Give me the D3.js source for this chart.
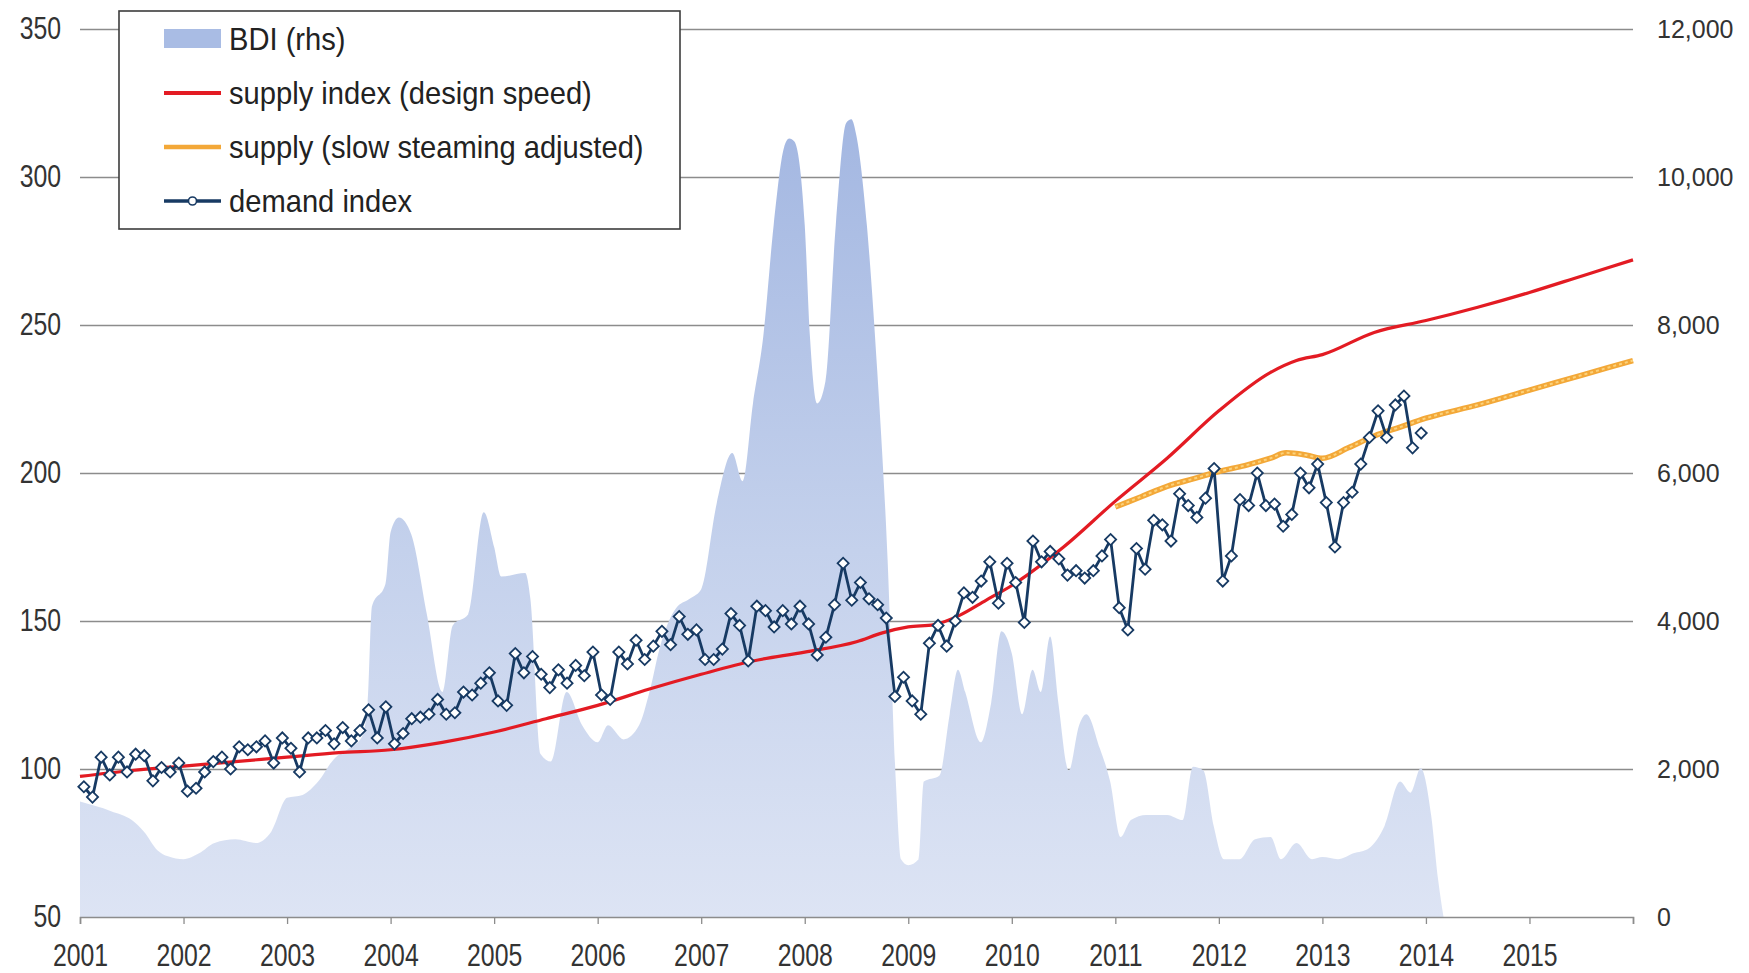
<!DOCTYPE html>
<html>
<head>
<meta charset="utf-8">
<script src="https://cdn.jsdelivr.net/npm/d3@7"></script>
<style>
body { margin: 0; background: #fff; }
svg { display: block; font-family: 'Liberation Sans', Arial, sans-serif; }
</style>
</head>
<body>
<svg id="chart" width="1749" height="973"></svg>
<script>
// axis ticks
var yearTicks = [2001, 2002, 2003, 2004, 2005, 2006, 2007, 2008, 2009, 2010, 2011, 2012, 2013, 2014, 2015, 2016];
var leftTicks = [50, 100, 150, 200, 250, 300, 350];
var rightTicks = [0, 2000, 4000, 6000, 8000, 10000, 12000];

// BDI (right hand scale)
var bdiYears = [2001.0, 2001.3, 2001.5, 2001.62, 2001.75, 2001.85, 2002.0, 2002.15, 2002.3, 2002.5, 2002.7, 2002.85, 2003.0, 2003.15, 2003.3, 2003.45, 2003.6, 2003.72, 2003.78, 2003.82, 2003.95, 2004.0, 2004.08, 2004.2, 2004.35, 2004.5, 2004.6, 2004.75, 2004.9, 2005.0, 2005.07, 2005.3, 2005.35, 2005.45, 2005.55, 2005.7, 2005.85, 2006.0, 2006.1, 2006.25, 2006.4, 2006.5, 2006.6, 2006.75, 2006.9, 2007.0, 2007.15, 2007.3, 2007.4, 2007.5, 2007.6, 2007.7, 2007.8, 2007.85, 2007.9, 2008.0, 2008.05, 2008.12, 2008.2, 2008.3, 2008.4, 2008.45, 2008.5, 2008.6, 2008.7, 2008.8, 2008.88, 2008.93, 2009.0, 2009.1, 2009.15, 2009.3, 2009.4, 2009.48, 2009.55, 2009.7, 2009.8, 2009.9, 2010.0, 2010.1, 2010.2, 2010.28, 2010.37, 2010.45, 2010.55, 2010.65, 2010.72, 2010.85, 2010.95, 2011.05, 2011.15, 2011.3, 2011.5, 2011.65, 2011.75, 2011.85, 2011.95, 2012.05, 2012.2, 2012.35, 2012.5, 2012.6, 2012.75, 2012.9, 2013.0, 2013.15, 2013.3, 2013.45, 2013.6, 2013.75, 2013.85, 2013.95, 2014.05, 2014.12, 2014.17];
var bdiValues = [1560, 1430, 1310, 1150, 900, 820, 780, 860, 1000, 1050, 1000, 1160, 1610, 1650, 1830, 2130, 2280, 2430, 2900, 4200, 4500, 5200, 5400, 5170, 4090, 3040, 3940, 4090, 5470, 5000, 4600, 4650, 4300, 2200, 2100, 3040, 2590, 2360, 2590, 2400, 2590, 3040, 3640, 4160, 4310, 4430, 5590, 6270, 5890, 6940, 7850, 9350, 10400, 10520, 10480, 9350, 7850, 6940, 7240, 9350, 10730, 10780, 10550, 9350, 7390, 4840, 1830, 780, 700, 780, 1830, 1910, 2740, 3340, 3040, 2360, 2890, 3860, 3560, 2740, 3340, 3040, 3790, 2890, 1980, 2590, 2740, 2280, 1830, 1080, 1310, 1380, 1380, 1310, 2030, 1980, 1230, 780, 780, 1050, 1080, 780, 1000, 780, 810, 780, 860, 930, 1230, 1830, 1680, 2010, 1380, 480, 0];

// supply index (design speed)
var supplyYears = [2001.0, 2001.5, 2002.0, 2002.5, 2003.0, 2003.5, 2004.0, 2004.5, 2005.0, 2005.5, 2006.0, 2006.5, 2007.0, 2007.5, 2008.0, 2008.5, 2008.75, 2009.0, 2009.25, 2009.5, 2009.75, 2010.0, 2010.5, 2011.0, 2011.5, 2012.0, 2012.5, 2012.75, 2013.0, 2013.5, 2014.0, 2014.5, 2015.0, 2015.5, 2016.0];
var supplyDesign = [97.5, 99.5, 101, 102.5, 104, 105.5, 106.5, 109, 112.5, 117, 121.5, 127, 132, 136.5, 139.5, 143, 146, 148, 148.8, 152, 157, 162, 175, 190.5, 205, 221, 234, 238, 240, 247.5, 251.5, 256, 261, 266.5, 272];

// supply (slow steaming adjusted)
var slowYears = [2011.0, 2011.25, 2011.5, 2011.75, 2012.0, 2012.25, 2012.5, 2012.65, 2012.85, 2013.0, 2013.25, 2013.5, 2013.75, 2014.0, 2014.5, 2015.0, 2015.5, 2016.0];
var supplySlow = [188.5, 192, 195.5, 198, 200.5, 202.5, 205, 206.8, 206, 205, 208.5, 212.5, 215.5, 218.5, 223, 228, 233, 238];

// demand index, monthly from Jan 2001
var demandStart = 2001;
var demandValues = [
    94, 90.5, 104, 98, 104, 99, 105, 104.5, 96, 100.5, 99, 102,
    92.5, 93.5, 99, 102.5, 104, 100, 107.5, 106.5, 107.5, 109.5, 102, 110.5,
    107, 99, 110.5, 110.5, 113, 108.5, 114, 109.5, 113, 120, 110.5, 121,
    108.5, 112, 117, 117.5, 118.5, 123.5, 118.5, 119, 126, 125, 129, 132.5,
    123, 121.5, 139, 132.5, 138, 132, 127.5, 133.5, 129, 135, 131.5, 139.5,
    125, 123.5, 139.5, 135.5, 143.5, 137, 141.5, 146.5, 142, 151.5, 145.5, 147,
    137, 137, 140.5, 152.5, 148.5, 136.5, 155, 153.5, 148, 153.5, 149, 155,
    149, 138.5, 144.5, 155.5, 169.5, 157, 163, 157.5, 155.5, 151, 124.5, 131,
    123, 118.5, 142.5, 148.5, 141.5, 150, 159.5, 158, 163.5, 170, 156, 169.5,
    163, 149.5, 177, 170, 173.5, 171, 165.5, 167, 164.5, 167, 172, 177.5,
    154.5, 147, 174.5, 167.5, 184, 182.5, 177, 193, 189, 185, 191.5, 201.5,
    163.5, 172, 191, 189, 200, 189, 189.5, 182, 186, 200, 195, 203,
    190, 175, 190, 193.5, 203, 212, 221, 212, 223, 226, 208.5, 213.5
];

var legendLabels = ['BDI (rhs)', 'supply index (design speed)', 'supply (slow steaming adjusted)', 'demand index'];

var RED = '#e31b23';
var ORANGE = '#f3a838';
var NAVY = '#173a63';
var TEXT = '#333';

var svg = d3.select('#chart');

// plot edges (window.top is reserved, so prefixed names)
var plotLeft = 80, plotRight = 1633, plotTop = 29, plotBottom = 917;

var x = d3.scaleLinear().domain([2001, 2016]).range([plotLeft, plotRight]);
var yL = d3.scaleLinear().domain([50, 350]).range([plotBottom, plotTop]);
var yR = d3.scaleLinear().domain([0, 12000]).range([plotBottom, plotTop]);

// gradient for the BDI area
var defs = svg.append('defs');
var grad = defs.append('linearGradient')
    .attr('id', 'bdiFill')
    .attr('gradientUnits', 'userSpaceOnUse')
    .attr('x1', 0).attr('x2', 0)
    .attr('y1', yR(11000)).attr('y2', plotBottom);
grad.append('stop').attr('offset', '0%').attr('stop-color', '#a2b6e1');
grad.append('stop').attr('offset', '55%').attr('stop-color', '#c4d1ec');
grad.append('stop').attr('offset', '100%').attr('stop-color', '#dde4f4');

// gridlines + right labels
var rightAxis = svg.append('g')
    .attr('transform', 'translate(' + plotRight + ',0)')
    .call(d3.axisRight(yR)
        .tickValues(rightTicks)
        .tickSize(-(plotRight - plotLeft))
        .tickPadding(24)
        .tickFormat(d3.format(',')));
rightAxis.select('.domain').remove();
rightAxis.selectAll('line')
    .attr('stroke', '#8c8c8c')
    .attr('stroke-width', 1.3)
    .filter(function (d) { return d === 0; }).remove();
rightAxis.selectAll('text')
    .attr('fill', TEXT)
    .style('font-size', '25px');

// BDI area
var bdiData = bdiYears.map(function (yr, i) {
    return { x: yr, v: bdiValues[i] };
});
var area = d3.area()
    .x(function (d) { return x(d.x); })
    .y0(plotBottom)
    .y1(function (d) { return yR(d.v); })
    .curve(d3.curveMonotoneX);
svg.append('path')
    .datum(bdiData)
    .attr('fill', 'url(#bdiFill)')
    .attr('d', area);

// left labels (narrow looking font)
var leftAxis = svg.append('g')
    .attr('transform', 'translate(' + plotLeft + ',0)')
    .call(d3.axisLeft(yL).tickValues(leftTicks).tickSize(0).tickPadding(0));
leftAxis.select('.domain').remove();
leftAxis.selectAll('text')
    .attr('x', 0)
    .attr('fill', TEXT)
    .style('font-size', '31px')
    .attr('transform', 'translate(-19,0) scale(0.8,1)');

// bottom axis
var xAxis = svg.append('g')
    .attr('transform', 'translate(0,' + plotBottom + ')')
    .call(d3.axisBottom(x)
        .tickValues(yearTicks)
        .tickSize(7)
        .tickPadding(20)
        .tickFormat(function (d) { return d < 2016 ? d : ''; }));
xAxis.select('.domain').attr('stroke', '#8c8c8c').attr('stroke-width', 1.6);
xAxis.selectAll('line').attr('stroke', '#8c8c8c').attr('stroke-width', 1.3);
xAxis.selectAll('text')
    .attr('fill', TEXT)
    .style('font-size', '31px')
    .attr('transform', 'scale(0.8,1)');

// supply lines
var line = d3.line()
    .x(function (d) { return x(d.x); })
    .y(function (d) { return yL(d.v); })
    .curve(d3.curveMonotoneX);

var designData = supplyYears.map(function (yr, i) { return { x: yr, v: supplyDesign[i] }; });
var slowData = slowYears.map(function (yr, i) { return { x: yr, v: supplySlow[i] }; });

svg.append('path')
    .datum(slowData)
    .attr('fill', 'none')
    .attr('stroke', ORANGE)
    .attr('stroke-width', 5.5)
    .attr('d', line);
svg.append('path')
    .datum(slowData)
    .attr('fill', 'none')
    .attr('stroke', '#fbd27c')
    .attr('stroke-width', 2)
    .attr('stroke-dasharray', '3,3')
    .attr('d', line);

svg.append('path')
    .datum(designData)
    .attr('fill', 'none')
    .attr('stroke', RED)
    .attr('stroke-width', 3.2)
    .attr('d', line);

// demand index
var demandData = demandValues.map(function (v, i) {
    return { x: demandStart + (i + 0.45) / 12, v: v, i: i };
});
var demandLine = d3.line()
    .defined(function (d) { return d.i < demandValues.length - 1; })
    .x(function (d) { return x(d.x); })
    .y(function (d) { return yL(d.v); });
svg.append('path')
    .datum(demandData)
    .attr('fill', 'none')
    .attr('stroke', NAVY)
    .attr('stroke-width', 2.8)
    .attr('stroke-linejoin', 'round')
    .attr('d', demandLine);

var diamond = d3.symbol().type(d3.symbolSquare).size(62);
svg.append('g').selectAll('path')
    .data(demandData)
    .enter().append('path')
    .attr('d', diamond)
    .attr('transform', function (d) {
        return 'translate(' + x(d.x) + ',' + yL(d.v) + ') rotate(45)';
    })
    .attr('fill', '#fff')
    .attr('stroke', NAVY)
    .attr('stroke-width', 1.8);

// legend
var lg = svg.append('g');
lg.append('rect')
    .attr('x', 119).attr('y', 11)
    .attr('width', 561).attr('height', 218)
    .attr('fill', '#fff')
    .attr('stroke', '#3c3c3c')
    .attr('stroke-width', 1.6);

var rowY = [39, 93, 147, 201];
var sx1 = 164, sx2 = 221;

lg.append('rect')
    .attr('x', sx1).attr('y', rowY[0] - 10)
    .attr('width', sx2 - sx1).attr('height', 19)
    .attr('fill', '#a9bce4');
lg.append('line')
    .attr('x1', sx1).attr('x2', sx2).attr('y1', rowY[1]).attr('y2', rowY[1])
    .attr('stroke', RED).attr('stroke-width', 4);
lg.append('line')
    .attr('x1', sx1).attr('x2', sx2).attr('y1', rowY[2]).attr('y2', rowY[2])
    .attr('stroke', ORANGE).attr('stroke-width', 4.5);
lg.append('line')
    .attr('x1', sx1).attr('x2', sx2).attr('y1', rowY[3]).attr('y2', rowY[3])
    .attr('stroke', NAVY).attr('stroke-width', 3.5);
lg.append('circle')
    .attr('cx', (sx1 + sx2) / 2).attr('cy', rowY[3]).attr('r', 4)
    .attr('fill', '#fff').attr('stroke', NAVY).attr('stroke-width', 1.6);

lg.selectAll('text.lbl')
    .data(legendLabels)
    .enter().append('text')
    .attr('class', 'lbl')
    .attr('x', 0)
    .attr('y', 0)
    .attr('transform', function (d, i) { return 'translate(229,' + rowY[i] + ') scale(0.94,1)'; })
    .attr('dy', '0.36em')
    .attr('fill', '#222')
    .style('font-size', '31px')
    .text(function (d) { return d; });
</script>
</body>
</html>
